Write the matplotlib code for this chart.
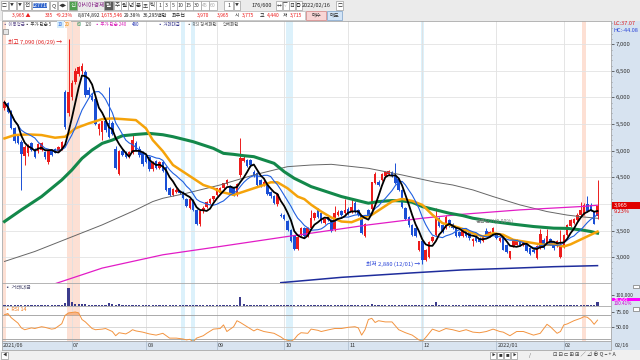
import numpy as np
import pandas as pd
import matplotlib
matplotlib.use('Agg')
import matplotlib.pyplot as plt
from matplotlib.patches import Rectangle
from matplotlib.ticker import MultipleLocator

plt.rcParams['font.family'] = ['Noto Sans CJK KR', 'DejaVu Sans']

# ---- daily candles (2021/06 .. 2022/02/16) ----
opens = [5800, 5890, 5730, 5420, 5290, 5170, 4900, 4960, 5140, 5040,
         4990, 5020, 4980, 4790, 5010, 5040, 5000, 5040, 6100, 5700,
         6010, 6300, 6450, 6500, 6480, 6140, 6020, 5980, 5400, 5350,
         5550, 5520, 5520, 5040, 4560, 5000, 4950, 4880, 4950, 5150,
         5040, 4960, 4900, 4890, 4650, 4800, 4680, 4790, 4700, 4290,
         4170, 4230, 4250, 4230, 4100, 3930, 4070, 3890, 3620, 3860,
         3950, 4020, 4100, 4170, 4200, 4300, 4380, 4330, 4300, 4170,
         4540, 4800, 4830, 4830, 4600, 4580, 4450, 4350, 4350, 4230,
         4150, 3990, 3800, 3790, 3670, 3510, 3390, 3150, 3430, 3540,
         3390, 3540, 3730, 3890, 3820, 3650, 3760, 3700, 3520, 3790,
         3860, 3830, 3900, 3840, 4020, 3880, 3790, 3390, 3880, 3900,
         4390, 4420, 4450, 4520, 4560, 4600, 4530, 4460, 4260, 3920,
         3760, 3610, 3550, 3140, 3300, 2950, 3010, 3300, 3420, 3730,
         3600, 3540, 3700, 3630, 3540, 3480, 3400, 3520, 3470, 3300,
         3400, 3350, 3300, 3490, 3400, 3470, 3440, 3300, 3360, 3230,
         2990, 3210, 3230, 3290, 3230, 3230, 3170, 3140, 2990, 3170,
         3320, 3260, 3340, 3290, 3210, 3010, 3190, 3420, 3580, 3640,
         3700, 3790, 3830, 4000, 3980, 3850, 3775]
highs = [5950, 5920, 5760, 5450, 5320, 5200, 5100, 5120, 5160, 5060,
         5140, 5160, 5000, 5020, 5030, 5060, 5080, 5180, 6150, 7090,
         6320, 6550, 6600, 6650, 6520, 6200, 6080, 6000, 5520, 5560,
         5600, 6200, 5560, 5080, 5020, 5050, 4990, 5000, 5290, 5180,
         5080, 4990, 4920, 4900, 4800, 4830, 4810, 4800, 4720, 4320,
         4300, 4300, 4270, 4250, 4120, 4120, 4100, 3900, 3880, 3960,
         4060, 4120, 4150, 4300, 4310, 4400, 4470, 4360, 4320, 4400,
         5230, 4900, 4850, 4850, 4640, 4600, 4470, 4450, 4370, 4250,
         4170, 4200, 3830, 3810, 3700, 3530, 3400, 3400, 3560, 3560,
         3560, 3880, 3850, 3920, 3840, 3740, 3780, 3720, 3960, 3880,
         3880, 4100, 3940, 4110, 4050, 3900, 3800, 3650, 3900, 4420,
         4600, 4450, 4590, 4620, 4630, 4620, 4760, 4480, 4280, 3940,
         3780, 3630, 3570, 3310, 3320, 3160, 3300, 3400, 3920, 3750,
         3620, 3790, 3720, 3650, 3560, 3500, 3550, 3540, 3490, 3360,
         3420, 3370, 3420, 3540, 3500, 3560, 3460, 3380, 3380, 3250,
         3120, 3320, 3340, 3310, 3310, 3250, 3190, 3160, 3220, 3520,
         3350, 3520, 3360, 3310, 3320, 3510, 3440, 3620, 3720, 3740,
         3820, 4040, 4020, 4150, 4020, 3870, 4440]
lows = [5760, 5700, 5400, 5150, 5120, 4260, 4740, 4900, 4990, 4870,
        4960, 5000, 4850, 4750, 4900, 4950, 4980, 5020, 5400, 5650,
        5950, 6250, 6400, 6450, 6000, 6000, 5940, 5480, 5300, 5200,
        5350, 5230, 5300, 4650, 4540, 4900, 4860, 4860, 4930, 5000,
        4890, 4720, 4760, 4620, 4620, 4660, 4660, 4600, 4250, 4150,
        4150, 4200, 4180, 4100, 3940, 3900, 3870, 3600, 3590, 3820,
        3920, 3990, 4060, 4150, 4180, 4280, 4350, 4180, 4150, 4150,
        4500, 4780, 4700, 4700, 4500, 4330, 4320, 4330, 4160, 4120,
        3990, 3970, 3750, 3700, 3500, 3280, 3140, 3130, 3400, 3380,
        3380, 3520, 3700, 3740, 3650, 3620, 3680, 3480, 3500, 3770,
        3770, 3810, 3800, 3820, 3830, 3770, 3430, 3380, 3780, 3880,
        4370, 4330, 4430, 4500, 4540, 4500, 4380, 4240, 3930, 3700,
        3570, 3400, 3370, 3120, 2880, 2920, 2990, 3280, 3400, 3560,
        3460, 3520, 3560, 3530, 3380, 3370, 3380, 3380, 3330, 3200,
        3290, 3260, 3290, 3390, 3380, 3450, 3340, 3280, 3130, 3080,
        2970, 3190, 3220, 3200, 3210, 3100, 3040, 3080, 2960, 3150,
        3150, 3240, 3230, 3130, 3190, 2990, 3170, 3400, 3560, 3620,
        3680, 3770, 3800, 3850, 3870, 3620, 3715]
closes = [5910, 5730, 5430, 5180, 5140, 4930, 5070, 5100, 5010, 4890,
          5130, 5140, 4880, 5000, 4920, 4960, 5070, 5170, 5450, 6110,
          6280, 6500, 6580, 6600, 6040, 6040, 5960, 5510, 5500, 5550,
          5380, 5260, 5320, 4680, 4990, 4920, 4880, 4970, 5200, 5020,
          4910, 4750, 4790, 4650, 4780, 4680, 4790, 4610, 4270, 4170,
          4280, 4260, 4200, 4120, 3960, 4100, 3890, 3620, 3860, 3930,
          4040, 4100, 4140, 4290, 4300, 4390, 4450, 4200, 4170, 4380,
          4860, 4860, 4720, 4740, 4520, 4350, 4350, 4420, 4180, 4140,
          4010, 4180, 3770, 3710, 3510, 3300, 3150, 3380, 3540, 3400,
          3550, 3730, 3830, 3760, 3670, 3720, 3700, 3500, 3830, 3850,
          3790, 3880, 3820, 3950, 3860, 3790, 3450, 3620, 3800, 4410,
          4570, 4350, 4570, 4600, 4610, 4520, 4400, 4260, 3950, 3720,
          3600, 3420, 3390, 3300, 2950, 3140, 3290, 3380, 3730, 3580,
          3480, 3760, 3580, 3540, 3400, 3390, 3530, 3400, 3350, 3340,
          3310, 3280, 3400, 3410, 3480, 3540, 3360, 3360, 3140, 3100,
          3110, 3300, 3320, 3220, 3290, 3120, 3060, 3100, 3200, 3440,
          3180, 3400, 3250, 3170, 3300, 3230, 3420, 3600, 3700, 3720,
          3800, 3890, 3980, 3870, 3890, 3630, 3965]
# trading value (million won)
volume = [9000, 7000, 8000, 7500, 6000, 9000, 7000, 6000, 5500, 5000,
          6000, 5500, 5000, 6000, 5000, 4500, 5000, 8000, 25000, 168000,
          33000, 18000, 12000, 14000, 16000, 9000, 7000, 9000, 8000, 7000,
          8000, 30000, 12000, 9000, 20000, 9000, 6000, 5000, 8000, 6000,
          5000, 4500, 4000, 4500, 4000, 3500, 4000, 3500, 6000, 5000,
          4000, 3500, 3000, 3500, 5000, 4500, 4000, 6000, 5500, 4500,
          4000, 3500, 3500, 4000, 3500, 3500, 4000, 3500, 3000, 5000,
          85000, 16000, 8000, 6000, 5000, 6000, 4500, 4000, 4500, 4000,
          4500, 5000, 4000, 3500, 5000, 6000, 6500, 5000, 4500, 4000,
          4000, 6000, 5000, 4000, 3500, 3500, 3000, 3500, 6000, 4500,
          3500, 5000, 4000, 5500, 4500, 3500, 4500, 4000, 5000, 12000,
          10000, 6000, 5000, 4500, 4000, 4000, 5500, 4500, 5000, 5500,
          5000, 4500, 4000, 4000, 6000, 5000, 4500, 4000, 33000, 9000,
          5000, 6000, 4000, 3500, 4000, 3500, 3500, 3000, 3000, 3500,
          3000, 3000, 3500, 4000, 3500, 4500, 3500, 3000, 4500, 4000,
          5000, 4000, 3500, 3000, 3500, 3000, 3500, 3000, 5000, 7000,
          4500, 6000, 4000, 4000, 4000, 6000, 6000, 7000, 6000, 5000,
          6000, 8000, 7500, 8000, 5000, 8000, 36295]

# longer moving averages (candle index, price)
ma20_idx = [0, 3, 7, 11, 15, 18, 21, 25, 29, 32, 35, 39, 42, 44, 47, 50, 53, 56, 59, 62,
            64, 66, 68, 71, 74, 77, 79, 81, 84, 87, 89, 91, 94, 97, 100, 103, 106, 109, 112, 115,
            118, 121, 124, 127, 130, 133, 136, 139, 142, 145, 148, 151, 154, 157, 160, 163, 166, 168, 171, 174, 176]
ma20_val = [5231, 5294, 5306, 5294, 5244, 5263, 5419, 5513, 5594, 5606, 5594, 5575, 5419, 5200, 4990, 4731, 4606, 4481, 4356, 4294,
            4231, 4200, 4169, 4231, 4294, 4356, 4406, 4406, 4294, 4138, 4090, 3985, 3856, 3744, 3669, 3656, 3731, 3794, 3919, 4044,
            4094, 4056, 3981, 3794, 3638, 3590, 3530, 3450, 3388, 3450, 3419, 3325, 3294, 3263, 3231, 3240, 3200, 3240, 3330, 3420, 3480]
ma60_idx = [0, 5, 11, 17, 20, 23, 26, 29, 32, 35, 39, 43, 47, 50, 56, 62, 65, 68, 71, 74, 77, 80, 83, 86,
            89, 91, 94, 100, 106, 108, 111, 115, 118, 121, 124, 128, 132, 136, 139, 145, 151, 157, 163, 167, 171, 174, 176]
ma60_val = [3669, 3888, 4138, 4450, 4638, 4856, 5013, 5138, 5200, 5281, 5306, 5325, 5300, 5263, 5169, 5044, 4950, 4931, 4906, 4888, 4825, 4763, 4606, 4481,
            4388, 4325, 4263, 4138, 4044, 4013, 4044, 4063, 4056, 4031, 3950, 3888, 3825, 3780, 3731, 3669, 3619, 3575, 3544, 3540, 3513, 3481, 3450]
ma120_idx = [0, 9, 19, 29, 39, 44, 47, 54, 64, 74, 84, 91, 97, 108, 118, 128, 133, 139, 145, 153, 161, 167, 171, 176]
ma120_val = [2919, 3106, 3356, 3606, 3888, 4044, 4106, 4200, 4356, 4544, 4700, 4731, 4744, 4669, 4544, 4406, 4356, 4263, 4138, 3981, 3856, 3790, 3760, 3730]
ma240_idx = [15, 29, 47, 64, 84, 91, 108, 124, 136, 153, 171, 176]
ma240_val = [2500, 2794, 3044, 3200, 3388, 3450, 3606, 3731, 3806, 3888, 3950, 3975]
ma480_idx = [82, 100, 120, 136, 150, 163, 176]
ma480_val = [2520, 2620, 2700, 2760, 2790, 2820, 2840]

# RSI 14
rsi_idx = [0, 1, 2, 4, 5, 6, 8, 9, 11, 12, 14, 15, 17, 18, 19, 21, 22, 23, 24, 26,
           27, 29, 30, 32, 33, 34, 36, 37, 38, 39, 41, 43, 45, 47, 49, 51, 53, 54, 55, 56,
           57, 59, 60, 62, 64, 65, 66, 68, 69, 70, 72, 74, 75, 77, 80, 82, 83, 85, 86, 87,
           88, 90, 91, 93, 94, 96, 98, 100, 102, 104, 105, 106, 107, 108, 109, 110, 111, 113, 115, 117,
           119, 121, 123, 124, 125, 127, 129, 131, 133, 135, 137, 139, 141, 143, 145, 147, 148, 150, 152, 154,
           155, 157, 159, 161, 162, 164, 165, 166, 167, 169, 171, 172, 173, 174, 175, 176]
rsi_val = [71, 73, 66, 57, 49, 46, 49, 48, 51, 50, 47, 48, 56, 70, 74, 75.5, 74, 63, 59, 48,
           46, 47, 48, 43, 36, 41, 39, 42, 46, 44, 42, 39, 37, 40, 32, 32, 30.5, 29, 30, 26,
           32, 36, 40, 47, 48, 54, 43, 51, 61, 58, 51, 44, 47, 43, 40, 34, 30, 27, 30, 37,
           41, 40, 47, 45, 43, 45.6, 48, 48, 50, 51, 49, 37, 46, 63, 65, 58, 61, 59, 59, 46,
           41, 37, 29, 27, 33, 47, 43, 48, 46, 43, 46, 42, 41, 43, 47, 43, 42, 36, 43, 43,
           41, 37, 40, 55, 51, 40, 43, 54, 55.6, 61, 65, 67.8, 66.7, 62, 55, 62]

month_idx = [20, 42, 63, 83, 102, 124, 146, 166]
month_lbl = ['07', '08', '09', '10', '11', '12', '2022/01', '02']
hot_days = [0, 19, 20, 21, 22, 172]      # RSI strong pattern
cold_days = [53, 56, 84, 85, 124]        # RSI weak pattern

RED = '#ec1c1c'
BLUE = '#1a4fd6'

o = np.array(opens); h = np.array(highs); l = np.array(lows); c = np.array(closes)
idx = np.arange(len(c))

W, H = 640, 360
def rect(x0, y0, x1, y1):
    return [x0 / W, 1 - y1 / H, (x1 - x0) / W, (y1 - y0) / H]

def T(x, y, s, size=4.3, color='#222222', ha='left', **kw):
    fig.text(x / W, 1 - y / H, s, fontsize=size, color=color, ha=ha, va='center', **kw)

def B(x0, y0, x1, y1, fc, ec='none', z=1):
    fig.add_artist(Rectangle((x0 / W, 1 - y1 / H), (x1 - x0) / W, (y1 - y0) / H,
                             transform=fig.transFigure, facecolor=fc, edgecolor=ec, lw=0.5, zorder=z))

fig = plt.figure(figsize=(6.4, 3.6), dpi=100)

# backgrounds
B(0, 0, 640, 20.5, '#ebebeb', z=-5)
B(611, 20.5, 640, 350, '#d7e3f0', z=-5)
B(0, 350, 640, 360, '#f0f0f0', z=-5)

XL = (-0.74, 180.0)
ax_p = fig.add_axes(rect(2, 20.5, 611, 282.5))
ax_v = fig.add_axes(rect(2, 283, 611, 305.7))
ax_r = fig.add_axes(rect(2, 306, 611, 341))
ax_x = fig.add_axes(rect(2, 341, 611, 350))

for ax in (ax_p, ax_v, ax_r, ax_x):
    ax.set_xlim(*XL)
    ax.tick_params(axis='x', bottom=False, labelbottom=False)
    for s in ax.spines.values():
        s.set_color('#a8a8a8')
        s.set_linewidth(0.6)
    ax.yaxis.tick_right()

for ax in (ax_p, ax_v, ax_r):
    for d in hot_days:
        ax.axvspan(d - 0.5, d + 0.5, color='#fde0d4', lw=0, zorder=0.3)
    for d in cold_days:
        ax.axvspan(d - 0.5, d + 0.5, color='#dcf1fb', lw=0, zorder=0.3)
    for t in month_idx:
        ax.axvline(t, color='#e0e0e0', lw=0.6, zorder=0.5)

# ---- price panel ----
ax_p.set_ylim(2523, 7447)
for v in range(3000, 7001, 500):
    ax_p.axhline(v, color='#e3e3e3', lw=0.6, zorder=0.5)
cols = np.where(c >= o, RED, BLUE)
ax_p.vlines(idx, l, h, colors=cols, lw=0.7, zorder=2)
ax_p.bar(idx, np.maximum(np.abs(c - o), 10), bottom=np.minimum(o, c), width=0.75,
         color=cols, lw=0, zorder=2.1)

ma5 = pd.Series(c).rolling(5, min_periods=1).mean()
ma10 = pd.Series(c).rolling(10, min_periods=1).mean()
ax_p.plot(ma120_idx, ma120_val, color='#666666', lw=0.7, zorder=3)
ax_p.plot(ma240_idx, ma240_val, color='#e21cc6', lw=0.9, zorder=3)
ax_p.plot(ma480_idx, ma480_val, color='#1f2d9c', lw=1.1, zorder=3)
ax_p.plot(ma60_idx, ma60_val, color='#13884a', lw=2.2, zorder=3.1)
ax_p.plot(ma20_idx, ma20_val, color='#f5a30a', lw=1.8, zorder=3.2)
ax_p.plot(idx, ma10, color='#2060e0', lw=0.8, zorder=3.3)
ax_p.plot(idx, ma5, color='#000000', lw=1.3, zorder=3.4)

ax_p.text(17.2, 7050, '최고 7,090 (06/29) →', color='#e02020', fontsize=4.2, ha='right', va='center', zorder=5)
ax_p.text(123.3, 2880, '최저 2,880 (12/01) →', color='#2a44d8', fontsize=4.2, ha='right', va='center', zorder=5)
ax_p.text(140, 3680, '평균단가(0.00%)', color='#777777', fontsize=3.8, ha='left', va='center', zorder=5)

price_ticks = list(range(3000, 7001, 500))
ax_p.set_yticks(price_ticks)
# the 4,000 label sits under the current-price box, as in the original
ax_p.set_yticklabels(['' if v == 4000 else f'{v:,}' for v in price_ticks])
ax_p.yaxis.set_minor_locator(MultipleLocator(100))
ax_p.tick_params(axis='y', which='major', direction='out', length=2, width=0.5, pad=1.5,
                 labelsize=4.3, colors='#333333')
ax_p.tick_params(axis='y', which='minor', direction='out', length=1, width=0.4, colors='#666666')

# ---- volume panel ----
ax_v.set_ylim(0, 216000)
ax_v.bar(idx, volume, width=0.65, color='#3c3c8c', lw=0, zorder=2)
ax_v.set_yticks([100000])
ax_v.set_yticklabels(['100,000'])
ax_v.tick_params(axis='y', direction='out', length=2, width=0.5, pad=1.5, labelsize=3.6, colors='#333333')
ax_v.text(0.005, 0.8, '▪ 거래대금', transform=ax_v.transAxes, fontsize=3.8, color='#555577', va='center')

# ---- RSI panel ----
rv = np.array(rsi_val, dtype=float)
ax_r.set_ylim(27.2, 85.5)
ax_r.axhline(70, color='#9c9c9c', lw=0.6, zorder=1)
ax_r.axhline(30, color='#9c9c9c', lw=0.6, zorder=1)
ax_r.axhline(50, color='#d2d2d2', lw=0.6, zorder=1)
ax_r.fill_between(rsi_idx, rv, 70, where=rv > 70, interpolate=True, color='#f6b48a', lw=0, zorder=1.5)
ax_r.fill_between(rsi_idx, rv, 30, where=rv < 30, interpolate=True, color='#7fcdee', lw=0, zorder=1.5)
ax_r.plot(rsi_idx, rv, color='#f39440', lw=0.7, zorder=2)
ax_r.set_yticks([50, 75])
ax_r.set_yticklabels(['50.00', '75.00'])
ax_r.tick_params(axis='y', direction='out', length=2, width=0.5, pad=1.5, labelsize=4, colors='#333333')
ax_r.text(0.005, 0.9, '▪ RSI 14', transform=ax_r.transAxes, fontsize=3.8, color='#f07818', va='center')

# ---- date strip ----
ax_x.set_facecolor('#d9e4f0')
ax_x.set_ylim(0, 1)
ax_x.set_yticks([])
ax_x.text(-0.4, 0.5, '2021/06', fontsize=4, va='center', color='#333333')
for t, s in zip(month_idx, month_lbl):
    ax_x.axvline(t, color='#a9b9cb', lw=0.5)
    ax_x.text(t + 0.4, 0.5, s, fontsize=4, va='center', color='#333333')
T(615, 345.5, '02/16', size=4, color='#333333')

# ---- right panel extras ----
T(613, 23.5, 'LC:37.07', size=4, color='#e02020')
T(613, 30.5, 'HC:-44.08', size=4, color='#2a44d8')
B(611.5, 202, 640, 208.5, '#e00000', z=2)
T(614, 205.3, '3,965', size=4, color='white')
T(614, 211.5, '9.23%', size=4, color='#e00000')
B(611.5, 297.5, 640, 301.3, '#ff00ff', z=2)
T(614, 299.4, '36,295', size=3.4, color='white')
T(614, 303.6, '100.41%', size=3.4, color='#d000d0')
B(633, 284.5, 638.5, 288, '#ffffff', '#777777', z=2)
B(633, 307, 638.5, 310.5, '#ffffff', '#777777', z=2)
B(3, 29, 8, 34, '#e6e6e6', '#888888', z=2)

# ---- toolbar row 1 ----
def btn(x0, x1, s, fc='#ffffff', tc='#333333', size=4):
    B(x0, 1, x1, 9.5, fc, '#a0a0a0')
    T((x0 + x1) / 2, 5.3, s, size=size, color=tc, ha='center')

btn(1, 7.5, '□', size=3.5)
btn(9, 15.5, '▼', size=2.8)
btn(16.5, 23, '▼', size=2.8)
btn(24, 31, '전')
B(32, 1, 49, 9.5, '#ffffff', '#a0a0a0')
B(33, 2.5, 47, 8, '#3366cc')
T(40, 5.3, '127710', size=3.8, color='white', ha='center')
btn(50, 57, 'Q')
btn(58, 67, '◀▶', size=3)
btn(69, 76.5, '신', fc='#4f9f4f', tc='white')
T(78, 5.3, '아시아경제', size=4.3, color='#8a2a8a')
btn(104, 112.5, '일', fc='#5a5a5a', tc='white')
for x, s in zip([114, 121, 128, 135, 142, 149], ['주', '월', '년', '분', '초', '틱']):
    btn(x, x + 6.5, s)
for x, s in zip([156, 163, 170, 177, 185, 193, 201, 209], ['1', '3', '5', '10', '15', '30', '45', '60']):
    btn(x, x + 7.5, s, tc='#333333' if s not in ('45', '60') else '#aaaaaa', size=3.8)
btn(224, 233, '1', size=3.8)
btn(234, 240, '▼', size=2.8)
T(252, 5.3, '176/600', size=4)
for x, s in zip([276, 282.5, 289, 295.5], ['↔', '▽', '日', '◎']):
    btn(x, x + 6, s, size=3.5)
T(302, 5.3, '2022/02/16', size=4)
btn(336, 343, '□', size=3.5)

# ---- toolbar row 2 ----
B(2, 10.8, 305, 19.6, '#ffffff', '#b8b8b8')
row2 = [(12, '3,965 ▲', RED), (45, '335', RED), (56, '+9.23%', RED), (78, '8,874,892', '#222222'),
        (101, '1,675,546', RED), (124, '29.38%', '#222222'), (143, '36,295백만', '#222222'),
        (172, '최우선', '#222222'), (197, '3,970', RED), (217, '3,965', RED), (235, '시', '#222222'),
        (242, '3,775', RED), (260, '고', '#222222'), (267, '4,440', RED), (283, '저', '#222222'),
        (290, '3,715', RED)]
for x, s, col in row2:
    T(x, 15.3, s, size=3.6, color=col)
B(306, 11, 326, 19.5, '#f8d5d5', '#d08080')
T(316, 15.3, '매수', size=3.8, color='#333333', ha='center')
B(327, 11, 342, 19.5, '#d2e4f7', '#7aa0c8')
T(334.5, 15.3, '매도', size=3.8, color='#333333', ha='center')

# ---- legend row ----
legend = [(3, '▪ 이동평균', '#6b5b95'), (25, '▪ 주가 단순 5', '#333333'), (58, '10', '#2060e0'),
          (65, '20', '#f08c00'), (77, '60', '#13884a'), (85, '120', '#555555'),
          (95, '▪ 주가 단순 240', '#d81bb8'), (132, '480', '#2030b0'), (158, '▪ 거래대금', '#3b3b8f'),
          (187, '▪ RSI 강세패턴', '#555555'), (223, '약세패턴', '#555555')]
B(57, 21.3, 63.5, 27.5, '#d6ecfa', z=0.9)
B(64.5, 21.3, 71, 27.5, '#fde3d0', z=0.9)
for x, s, col in legend:
    T(x, 24.4, s, size=3.2, color=col)

# ---- bottom bar ----
B(1, 351.5, 8, 358.5, '#ffffff', '#999999')
T(4.5, 355, '◀', size=3, color='#333333', ha='center')
for x, s in zip([490, 497, 504, 511], ['▶', '■', '■', '▶']):
    B(x, 351.5, x + 6, 358.5, '#ffffff', '#999999')
    T(x + 3, 355, s, size=2.6, color='#333333', ha='center')
B(519, 356.6, 527, 357.3, '#555555')
T(529, 355, '/', size=3.5, color='#555555')
B(532, 356.6, 549, 357.3, '#555555')
T(553, 355, '⊡ ⊟ ⊏ ⊞ ⊞ ∕ ⊿ ⊕ Q − + A', size=3.8, color='#333333')

fig.savefig('out.png', dpi=100)
